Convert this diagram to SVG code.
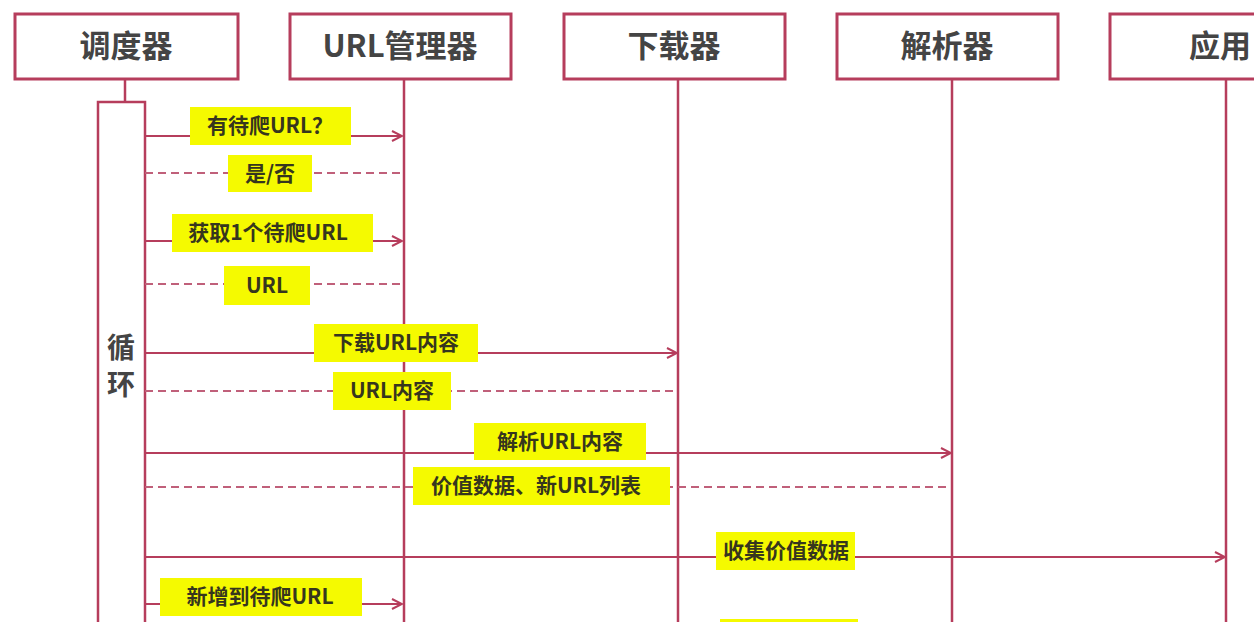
<svg xmlns="http://www.w3.org/2000/svg" width="1254" height="622" viewBox="0 0 1254 622">
<style>
.box{fill:#fff;stroke:#b63d5c;stroke-width:3}
.life{stroke:#b63d5c;stroke-width:2.5;fill:none}
.msg{stroke:#b63d5c;stroke-width:2;fill:none}
.ret{stroke:#c0607a;stroke-width:2;fill:none;stroke-dasharray:8 5}
.hdr{font-family:"Noto Sans CJK SC","Noto Sans",sans-serif;font-size:31px;font-weight:bold;fill:#444;text-anchor:middle}
.lbl{fill:#f5fa00}
.lt{font-family:"Noto Sans CJK SC","Noto Sans",sans-serif;font-size:21px;font-weight:bold;fill:#36361e;text-anchor:middle}
.loop{font-family:"Noto Sans CJK SC","Noto Sans",sans-serif;font-size:28px;font-weight:bold;fill:#444;text-anchor:middle}
</style>
<defs>
<marker id="arr" markerWidth="14" markerHeight="14" refX="12" refY="7" orient="auto" markerUnits="userSpaceOnUse">
<path d="M2,2 L12,7 L2,12" fill="none" stroke="#b63d5c" stroke-width="2"/>
</marker>
</defs>
<rect width="1254" height="622" fill="#fff"/>
<g id="lifelines">
<line class="life" x1="125" y1="79" x2="125" y2="101"/>
<line class="life" x1="404" y1="79" x2="404" y2="622"/>
<line class="life" x1="678" y1="79" x2="678" y2="622"/>
<line class="life" x1="952" y1="79" x2="952" y2="622"/>
<line class="life" x1="1226" y1="79" x2="1226" y2="622"/>
</g>
<g id="scheduler">
<rect class="box" x="15" y="14" width="223" height="65"/>
<text class="hdr" x="126" y="57">调度器</text>
</g>
<g id="urlmanager">
<rect class="box" x="290" y="14" width="221" height="65"/>
<text class="hdr" x="400" y="57">URL管理器</text>
</g>
<g id="downloader">
<rect class="box" x="564" y="14" width="221" height="65"/>
<text class="hdr" x="674" y="57">下载器</text>
</g>
<g id="parser">
<rect class="box" x="837" y="14" width="221" height="65"/>
<text class="hdr" x="947" y="57">解析器</text>
</g>
<g id="app">
<rect class="box" x="1110" y="14" width="222" height="65"/>
<text class="hdr" x="1220" y="57">应用</text>
</g>
<g id="loop">
<rect class="box" x="98" y="102" width="47" height="530" style="stroke-width:2.5"/>
<text class="loop" x="121" y="358">循</text>
<text class="loop" x="121" y="395">环</text>
</g>
<g id="connectors">
<line class="msg" x1="145" y1="136" x2="402" y2="136" marker-end="url(#arr)"/>
<line class="ret" x1="145" y1="173" x2="402" y2="173"/>
<line class="msg" x1="145" y1="241" x2="402" y2="241" marker-end="url(#arr)"/>
<line class="ret" x1="145" y1="284" x2="402" y2="284"/>
<line class="msg" x1="145" y1="353" x2="677" y2="353" marker-end="url(#arr)"/>
<line class="ret" x1="145" y1="391" x2="676" y2="391"/>
<line class="msg" x1="145" y1="453" x2="951" y2="453" marker-end="url(#arr)"/>
<line class="ret" x1="145" y1="487" x2="950" y2="487"/>
<line class="msg" x1="145" y1="557" x2="1225" y2="557" marker-end="url(#arr)"/>
<line class="msg" x1="145" y1="604" x2="402" y2="604" marker-end="url(#arr)"/>
</g>
<g id="labels">
<rect class="lbl" x="190" y="107" width="161" height="38"/>
<text class="lt" x="270" y="133">有待爬URL？</text>
<rect class="lbl" x="228" y="155" width="84" height="37"/>
<text class="lt" x="270" y="181">是/否</text>
<rect class="lbl" x="172" y="214" width="201" height="38"/>
<text class="lt" x="268" y="240">获取1个待爬URL</text>
<rect class="lbl" x="224" y="266" width="86" height="39"/>
<text class="lt" x="267" y="293">URL</text>
<rect class="lbl" x="314" y="324" width="164" height="38"/>
<text class="lt" x="396" y="350">下载URL内容</text>
<rect class="lbl" x="333" y="372" width="118" height="38"/>
<text class="lt" x="392" y="398">URL内容</text>
<rect class="lbl" x="474" y="423" width="172" height="37"/>
<text class="lt" x="560" y="449">解析URL内容</text>
<rect class="lbl" x="413" y="467" width="257" height="38"/>
<text class="lt" x="536" y="493">价值数据、新URL列表</text>
<rect class="lbl" x="716" y="532" width="139" height="38"/>
<text class="lt" x="786" y="558">收集价值数据</text>
<rect class="lbl" x="160" y="578" width="202" height="38"/>
<text class="lt" x="260" y="604">新增到待爬URL</text>
<rect class="lbl" x="720" y="619" width="138" height="3"/>
</g>
</svg>
